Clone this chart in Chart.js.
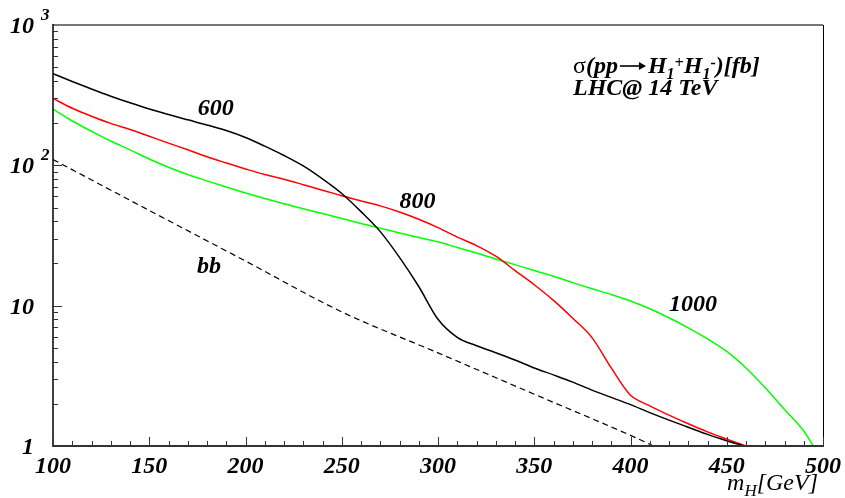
<!DOCTYPE html>
<html><head><meta charset="utf-8">
<script src="https://cdn.jsdelivr.net/npm/chart.js@4/dist/chart.umd.min.js"></script>
<style>html,body{margin:0;padding:0;background:#fff}#wrap{width:845px;height:498px;position:relative}</style>
</head><body><div id="wrap"><canvas id="c" width="845" height="498"></canvas></div>
<script>
// ---- data ----
const mass600 = [100,110,120,130,140,150,160,170,180,190,200,210,220,230,240,250,260,270,280,290,300,310,320,330,340,350,360,370,380,390,400,410,420,430,440,450,459];
const sigma600 = [450,396,350,311,279,252,230,211,194,177,158,137,117.5,99,80,63,46.8,33.7,22.1,13.7,8.0,5.95,5.18,4.62,4.1,3.6,3.21,2.85,2.5,2.22,1.97,1.73,1.53,1.36,1.21,1.09,1.0];
const mass800 = [100,110,120,130,140,150,160,170,180,190,200,210,220,230,240,250,260,270,280,290,300,310,320,330,340,350,360,370,380,390,400,405,410,420,430,440,450,460];
const sigma800 = [300,255,224,199,180,161,144,129,115,104,94.3,86,79.6,72.8,66.4,60.8,55.7,51.4,46.5,41.3,36.0,30.8,26.8,22.5,17.8,14.1,10.9,8.13,5.92,3.6,2.3,2.08,1.93,1.66,1.44,1.26,1.12,1.0];
const mass1000 = [100,110,120,130,140,150,160,170,180,190,200,210,220,230,240,250,260,270,280,290,300,310,320,330,340,350,360,370,380,390,400,410,420,430,440,450,460,470,480,490,495];
const sigma1000 = [251,207,175,149,129,111,97,86,77.5,70,63.6,58,53.2,49.1,45.3,41.8,38.5,35.7,33.0,30.6,28.5,26.0,23.7,21.5,19.6,17.8,16.2,14.6,13.2,12.0,10.8,9.5,8.2,6.95,5.8,4.72,3.6,2.6,1.82,1.28,1.0];
const massBB = [100,150,200,250,300,350,400,412];
const sigmaBB = [110,47.7,20.8,9.03,4.61,2.34,1.19,1.0];

const xTickValues = [100,150,200,250,300,350,400,450,500];
const xTickLabels = ['100','150','200','250','300','350','400','450','500'];
const yTickValues = [1,10,100,1000];
const yTickBase = ['1','10','10','10'];
const yTickExp = ['','','2','3'];

const curveLabels = ['600','800','1000','bb'];
const curveLabelMass = [184.5,289.4,432.5,181.1];
const curveLabelSigma = [252,54.9,10.2,19.0];

const pts = (xs, ys) => xs.map((x,i)=>({x:x, y:ys[i]}));

const FONT = '"Liberation Serif","DejaVu Serif",serif';

const decor = {
  id:'decor',
  afterDatasetsDraw(chart){
    const ctx = chart.ctx, a = chart.chartArea;
    const xs = chart.scales.x, ys = chart.scales.y;
    ctx.save();
    // frame
    ctx.lineWidth = 2; ctx.strokeStyle = '#777';
    ctx.beginPath(); ctx.moveTo(a.left, a.top); ctx.lineTo(a.right, a.top); ctx.stroke();
    ctx.lineWidth = 1; ctx.strokeStyle = '#000';
    ctx.beginPath(); ctx.moveTo(a.right+0.5, a.top); ctx.lineTo(a.right+0.5, a.bottom); ctx.stroke();
    ctx.lineWidth = 1.5; ctx.strokeStyle = '#000';
    ctx.beginPath(); ctx.moveTo(a.left, a.top-1); ctx.lineTo(a.left, a.bottom+1); ctx.stroke();
    ctx.lineWidth = 2; ctx.strokeStyle = '#333';
    ctx.beginPath(); ctx.moveTo(a.left, a.bottom); ctx.lineTo(a.right+1, a.bottom); ctx.stroke();
    // x ticks
    ctx.lineWidth = 1; ctx.strokeStyle = '#333';
    for (let v = 100; v <= 500; v += 10) {
      const px = Math.round(xs.getPixelForValue(v)) + 0.5;
      const len = (v % 50 === 0) ? 9 : 5;
      ctx.beginPath(); ctx.moveTo(px, a.bottom); ctx.lineTo(px, a.bottom - len); ctx.stroke();
    }
    // y ticks
    for (let d = 1; d <= 100; d *= 10) {
      for (let k = 1; k <= 9; k++) {
        const py = Math.round(ys.getPixelForValue(k*d)) + 0.5;
        const len = (k === 1) ? 9 : 5;
        ctx.beginPath(); ctx.moveTo(a.left, py); ctx.lineTo(a.left + len, py); ctx.stroke();
      }
    }
    // x tick labels
    ctx.fillStyle = '#000';
    ctx.font = 'bold italic 24px ' + FONT;
    ctx.textAlign = 'center'; ctx.textBaseline = 'alphabetic';
    xTickValues.forEach((v,i)=>{
      ctx.fillText(xTickLabels[i], xs.getPixelForValue(v), a.bottom + 27);
    });
    // y tick labels
    yTickValues.forEach((v,i)=>{
      const py = ys.getPixelForValue(v);
      ctx.font = 'bold italic 24px ' + FONT;
      ctx.textAlign = 'right';
      ctx.fillText(yTickBase[i], 34, py + 8);
      if (yTickExp[i]) {
        ctx.font = 'bold italic 17px ' + FONT;
        ctx.textAlign = 'left';
        ctx.fillText(yTickExp[i], 41, py - 5);
      }
    });
    // curve labels
    ctx.font = 'bold italic 24px ' + FONT;
    ctx.textAlign = 'center'; ctx.textBaseline = 'middle';
    curveLabels.forEach((t,i)=>{
      ctx.fillText(t, xs.getPixelForValue(curveLabelMass[i]), ys.getPixelForValue(curveLabelSigma[i]));
    });
    // title
    ctx.textAlign = 'left'; ctx.textBaseline = 'alphabetic';
    const big = 'bold italic 24px ' + FONT, small = 'bold italic 16px ' + FONT, up = '24px ' + FONT;
    const base = 73;
    let x = 573;
    const put = (txt, font, dy) => { ctx.font = font; ctx.fillText(txt, x, base + dy); x += ctx.measureText(txt).width; };
    put('\u03c3', up, 0); put('(pp', big, 0);
    // long arrow
    x += 2;
    ctx.lineWidth = 1.6; ctx.strokeStyle = '#000';
    const ay = base - 7;
    ctx.beginPath(); ctx.moveTo(x, ay); ctx.lineTo(x + 25, ay); ctx.stroke();
    ctx.beginPath(); ctx.moveTo(x + 26, ay); ctx.lineTo(x + 19, ay - 4); ctx.lineTo(x + 19, ay + 4); ctx.closePath(); ctx.fillStyle = '#000'; ctx.fill();
    x += 28;
    put('H', big, 0); put('1', small, 6); put('+', small, -5);
    put('H', big, 0); put('1', small, 6); put('-', small, -5);
    put(')[fb]', big, 0);
    ctx.font = big;
    ctx.fillText('LHC@ 14 TeV', 573, 95);
    // axis title m_H[GeV]
    const t1 = 'italic 24px ' + FONT, t2 = 'italic 17px ' + FONT;
    const tp = [['m', t1, 0], ['H', t2, 6], ['[GeV]', t1, 0]];
    let w = 0; tp.forEach(p=>{ ctx.font = p[1]; w += ctx.measureText(p[0]).width; });
    x = 818 - w;
    tp.forEach(p=>{ ctx.font = p[1]; ctx.fillText(p[0], x, 490 + p[2]); x += ctx.measureText(p[0]).width; });
    ctx.restore();
  }
};

new Chart(document.getElementById('c'), {
  type: 'line',
  data: {
    datasets: [
      {label:'600', data: pts(mass600, sigma600), borderColor:'#000000', borderWidth:1.5, pointRadius:0, fill:false, cubicInterpolationMode:'monotone'},
      {label:'800', data: pts(mass800, sigma800), borderColor:'#ff0000', borderWidth:1.5, pointRadius:0, fill:false, cubicInterpolationMode:'monotone'},
      {label:'1000', data: pts(mass1000, sigma1000), borderColor:'#00ff00', borderWidth:1.5, pointRadius:0, fill:false, cubicInterpolationMode:'monotone'},
      {label:'bb', data: pts(massBB, sigmaBB), borderColor:'#000000', borderWidth:1.2, borderDash:[6,4], pointRadius:0, fill:false, cubicInterpolationMode:'monotone'}
    ]
  },
  options: {
    responsive:false, animation:false, devicePixelRatio:1,
    layout:{padding:{left:53, right:22, top:25, bottom:52}},
    plugins:{legend:{display:false}, tooltip:{enabled:false}},
    scales:{
      x:{type:'linear', min:100, max:500, display:false},
      y:{type:'logarithmic', min:1, max:1000, display:false}
    }
  },
  plugins:[decor]
});
</script></body></html>
